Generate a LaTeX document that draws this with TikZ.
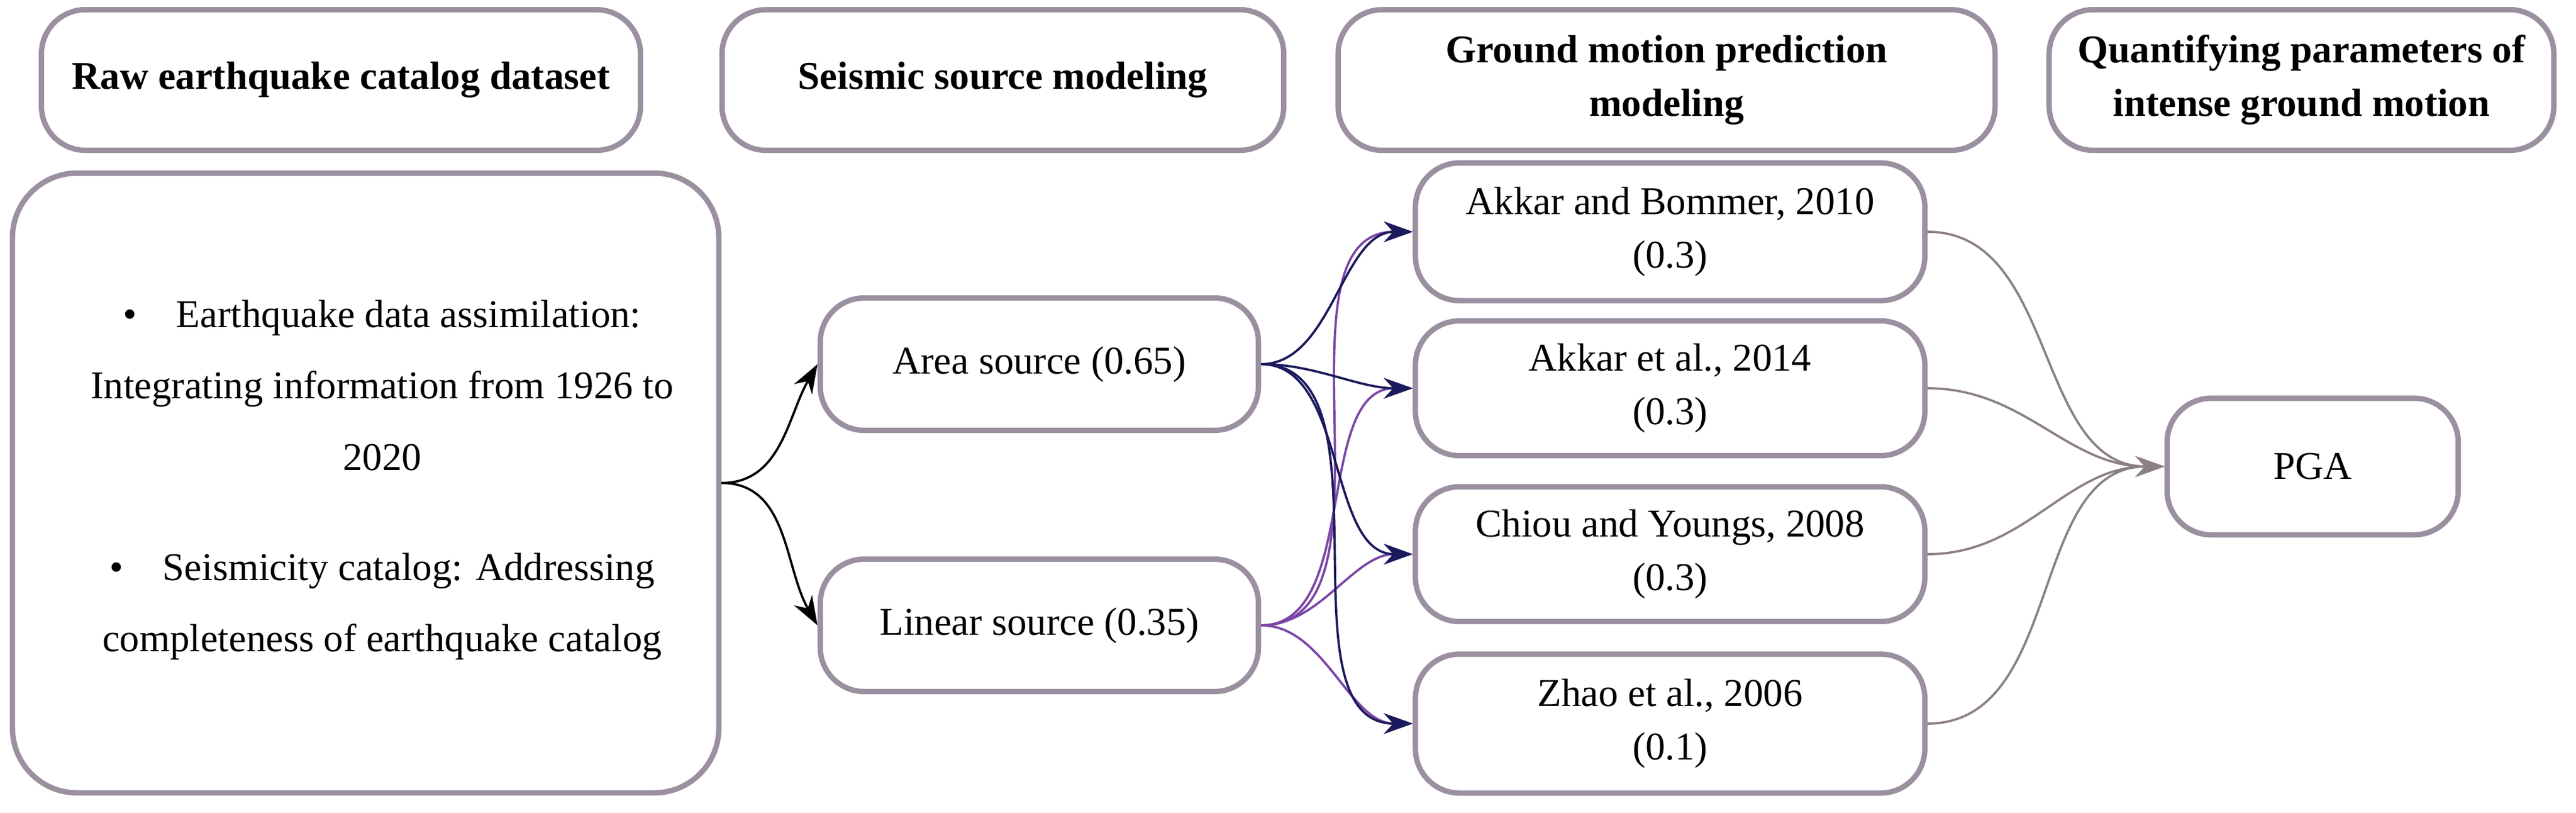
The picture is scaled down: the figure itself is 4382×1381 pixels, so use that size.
\documentclass[tikz,border=0pt]{standalone}
\usepackage{fontspec}
\setmainfont{Liberation Serif}
\usetikzlibrary{arrows.meta}
\definecolor{bord}{HTML}{9A909F}
\definecolor{navy}{HTML}{1B1A5C}
\definecolor{purp}{HTML}{7B45A6}
\definecolor{grayar}{HTML}{8C8082}
\begin{document}
\begin{tikzpicture}[x=0.01cm,y=-0.01cm,
  box/.style={draw=bord,line width=2.6pt,rounded corners=0.75cm,fill=white,align=center,inner sep=0pt,
    font=\fontsize{19}{26}\selectfont},
  hdr/.style={box,font=\fontsize{19}{26}\selectfont\bfseries},
  ar/.style={-{Stealth[length=14pt,width=10pt]},line width=1.1pt},
  ]
\useasboundingbox (0,0) rectangle (4382,1381);
% headers
\node[hdr,minimum width=1019\pgflinewidth/\pgflinewidth*0.01cm,minimum height=2.39cm] (h1) at (580,136) {Raw earthquake catalog dataset};
\node[hdr,minimum width=9.55cm,minimum height=2.39cm] (h2) at (1706,136) {Seismic source modeling};
\node[hdr,minimum width=11.17cm,minimum height=2.39cm] (h3) at (2835,136) {Ground motion prediction\\modeling};
\node[hdr,minimum width=8.58cm,minimum height=2.39cm] (h4) at (3915,136) {Quantifying parameters of\\intense ground motion};
% main boxes
\node[box,rounded corners=1.1cm,minimum width=12.01cm,minimum height=10.53cm] (raw) at (622,821) {};
\node[font=\fontsize{19}{26}\selectfont,align=center] (t1) at (650,655) {\textbullet\quad Earthquake data assimilation:\\[0.3cm]Integrating information from 1926 to\\[0.3cm]2020};
\node[font=\fontsize{19}{26}\selectfont,align=center] (t2) at (650,1031) {\textbullet\quad Seismicity catalog: Addressing\\[0.3cm]completeness of earthquake catalog};
\node[box,minimum width=7.45cm,minimum height=2.25cm] (area) at (1768,619) {Area source (0.65)};
\node[box,minimum width=7.45cm,minimum height=2.25cm] (lin) at (1768,1063) {Linear source (0.35)};
\node[box,minimum width=8.66cm,minimum height=2.34cm] (g1) at (2841,394) {Akkar and Bommer, 2010\\(0.3)};
\node[box,minimum width=8.66cm,minimum height=2.29cm] (g2) at (2841,660) {Akkar et al., 2014\\(0.3)};
\node[box,minimum width=8.66cm,minimum height=2.29cm] (g3) at (2841,942) {Chiou and Youngs, 2008\\(0.3)};
\node[box,minimum width=8.66cm,minimum height=2.36cm] (g4) at (2841,1230) {Zhao et al., 2006\\(0.1)};
\node[box,minimum width=4.95cm,minimum height=2.32cm] (pga) at (3934,793) {PGA};
% connectors
\draw[ar,black] (raw.east) to[out=0,in=240] (area.west);
\draw[ar,black] (raw.east) to[out=0,in=120] (lin.west);
\foreach \g in {g1,g2,g3,g4}{
  \draw[ar,purp] (lin.east) to[out=0,in=180,looseness=0.9] (\g.west);
}
\foreach \g in {g1,g2,g3,g4}{
  \draw[ar,navy] (area.east) to[out=0,in=180,looseness=0.9] (\g.west);
}
\foreach \g in {g1,g2,g3,g4}{
  \draw[ar,grayar] (\g.east) to[out=0,in=180] (pga.west);
}
\end{tikzpicture}
\end{document}
